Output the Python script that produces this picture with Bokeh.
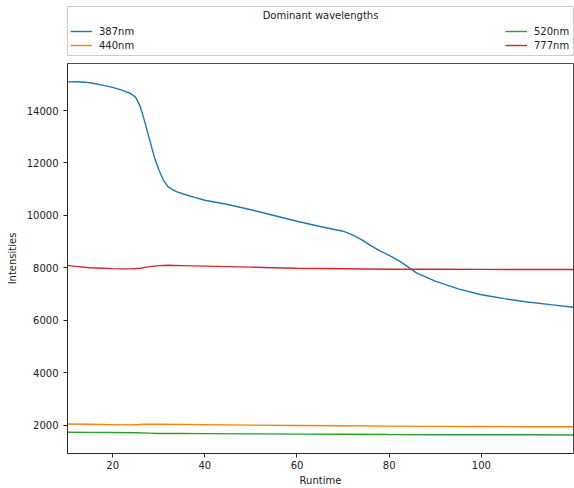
from bokeh.plotting import figure
from bokeh.models import Range1d, Legend, LegendItem, Label, FixedTicker
from bokeh.layouts import column
from bokeh.embed import file_html
from bokeh.resources import INLINE

# ---- data ----
x_387 = [10.2, 12, 14, 16, 18, 20, 22, 24, 25, 26, 27, 28, 29, 30, 31, 32, 33, 34, 36, 38,
         40, 45, 50, 55, 60, 65, 70, 72, 74, 76, 78, 80, 82, 84, 86, 88, 90, 95, 100, 105,
         110, 115, 120]
y_387 = [15090, 15095, 15080, 15030, 14960, 14880, 14780, 14640, 14500, 14150, 13550, 12900,
         12250, 11750, 11350, 11100, 10980, 10900, 10780, 10680, 10580, 10420, 10220, 10000,
         9780, 9580, 9400, 9260, 9080, 8850, 8650, 8480, 8290, 8050, 7800, 7650, 7500, 7200,
         6980, 6830, 6700, 6600, 6500]

x_440 = [10.2, 15, 20, 24, 27, 30, 40, 50, 60, 70, 80, 90, 100, 110, 120]
y_440 = [2050, 2040, 2030, 2020, 2040, 2045, 2030, 2010, 1995, 1985, 1970, 1960, 1955, 1950, 1945]

x_520 = [10.2, 15, 20, 25, 28, 30, 35, 40, 50, 60, 70, 80, 90, 100, 110, 120]
y_520 = [1740, 1735, 1730, 1720, 1705, 1690, 1690, 1685, 1675, 1665, 1660, 1650, 1645, 1640,
         1640, 1635]

x_777 = [10.2, 12, 15, 18, 20, 22, 24, 26, 28, 30, 32, 35, 40, 45, 50, 55, 60, 65, 70, 75,
         80, 90, 100, 110, 120]
y_777 = [8100, 8060, 8010, 7990, 7975, 7965, 7965, 7990, 8050, 8090, 8100, 8090, 8070, 8050,
         8030, 8010, 7990, 7980, 7970, 7960, 7950, 7950, 7945, 7940, 7940]

labels = ["387nm", "440nm", "520nm", "777nm"]
colors = ["#1f77b4", "#ff7f0e", "#2ca02c", "#d62728"]
x_ticks = [20, 40, 60, 80, 100]
y_ticks = [2000, 4000, 6000, 8000, 10000, 12000, 14000]

FONT = "DejaVu Sans"
FS = "10px"
LW = 1.4

# ---- main plot ----
p = figure(width=574, height=430, output_backend="svg", toolbar_location=None,
           x_range=Range1d(10.2, 120), y_range=Range1d(928, 15792),
           min_border_left=67, min_border_right=1, min_border_top=5, min_border_bottom=33)
series = [(x_387, y_387), (x_440, y_440), (x_520, y_520), (x_777, y_777)]
for (xs, ys), c in zip(series, colors):
    p.line(xs, ys, line_color=c, line_width=LW)

p.grid.visible = False
p.outline_line_color = "#222222"
p.outline_line_width = 0.8
p.xaxis.ticker = FixedTicker(ticks=x_ticks)
p.yaxis.ticker = FixedTicker(ticks=y_ticks)
p.xaxis.axis_label = "Runtime"
p.yaxis.axis_label = "Intensities"
for ax in (p.xaxis, p.yaxis):
    ax.axis_line_color = "#222222"
    ax.axis_line_width = 0.8
    ax.major_tick_line_color = "#222222"
    ax.major_tick_in = 0
    ax.major_tick_out = 4
    ax.minor_tick_line_color = None
    ax.major_label_text_font = FONT
    ax.major_label_text_font_size = FS
    ax.major_label_text_color = "#222222"
    ax.axis_label_text_font = FONT
    ax.axis_label_text_font_size = FS
    ax.axis_label_text_font_style = "normal"
    ax.axis_label_text_color = "#222222"
p.xaxis.major_label_standoff = 3
p.xaxis.axis_label_standoff = 3
p.yaxis.major_label_standoff = 5
p.yaxis.axis_label_standoff = 6
p.yaxis.major_label_orientation = "horizontal"

# ---- legend panel ----
lg = figure(width=574, height=58, output_backend="svg", toolbar_location=None,
            x_range=Range1d(0, 1), y_range=Range1d(0, 1),
            x_axis_location=None, y_axis_location=None,
            min_border_left=67, min_border_right=1, min_border_top=6, min_border_bottom=3)
lg.grid.visible = False
lg.outline_line_color = "#cccccc"
lg.outline_line_width = 1
# off-screen proxy lines so the legend can draw its glyphs
rends = [lg.line([-5, -4], [-5, -4], line_color=c, line_width=LW) for c in colors]

def make_legend(idx, loc):
    leg = Legend(items=[LegendItem(label=labels[i], renderers=[rends[i]]) for i in idx],
                 location=loc, margin=0, padding=0, spacing=2,
                 glyph_width=22, glyph_height=12, label_height=12, label_standoff=7,
                 label_text_font=FONT, label_text_font_size=FS, label_text_color="#222222",
                 border_line_color=None, background_fill_alpha=0)
    lg.add_layout(leg)

make_legend([0, 1], (3, 4))
make_legend([2, 3], (438, 4))
lg.add_layout(Label(x=0.5, y=0.816, text="Dominant wavelengths", text_align="center",
                    text_baseline="middle", text_font=FONT, text_font_size=FS,
                    text_color="#222222"))

layout = column(lg, p, spacing=0)
open("out.html", "w").write(file_html(layout, INLINE))
